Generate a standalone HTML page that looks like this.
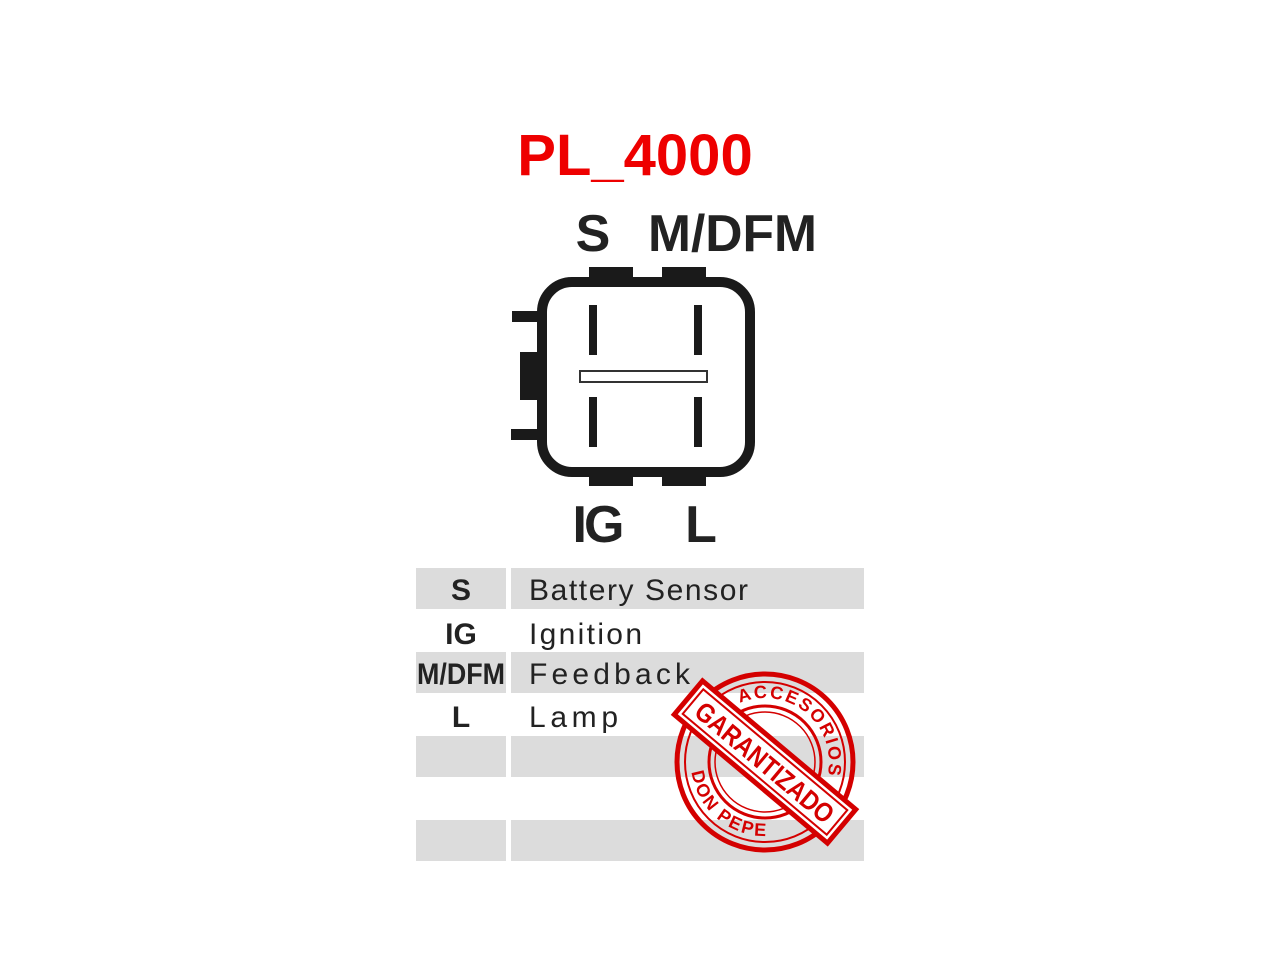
<!DOCTYPE html>
<html><head><style>
body{margin:0;background:#fff;}
</style></head><body>
<svg width="1280" height="960" xmlns="http://www.w3.org/2000/svg" style="display:block">
<rect width="1280" height="960" fill="#fff"/>
<text x="635" y="175" text-anchor="middle" font-family="Liberation Sans, sans-serif" font-weight="bold" font-size="58" fill="#ee0000">PL_4000</text>
<text x="592" y="251" text-anchor="middle" font-family="Liberation Sans, sans-serif" font-weight="bold" font-size="52" fill="#222" letter-spacing="-2">S</text>
<text x="648" y="251" font-family="Liberation Sans, sans-serif" font-weight="bold" font-size="52" fill="#222" textLength="169" lengthAdjust="spacingAndGlyphs">M/DFM</text>
<text x="597" y="542" text-anchor="middle" font-family="Liberation Sans, sans-serif" font-weight="bold" font-size="52" fill="#222" letter-spacing="-3">IG</text>
<text x="701" y="542" text-anchor="middle" font-family="Liberation Sans, sans-serif" font-weight="bold" font-size="52" fill="#222">L</text>
<g fill="#1a1a1a">
<rect x="589" y="267" width="44" height="16"/><rect x="662" y="267" width="44" height="16"/>
<rect x="589" y="470" width="44" height="16"/><rect x="662" y="470" width="44" height="16"/>
<rect x="512" y="311" width="28" height="11"/><rect x="511" y="429" width="29" height="11"/>
<rect x="520" y="352" width="20" height="48"/>
<rect x="589" y="305" width="8" height="50"/><rect x="694" y="305" width="8" height="50"/>
<rect x="589" y="397" width="8" height="50"/><rect x="694" y="397" width="8" height="50"/>
</g>
<rect x="542" y="282" width="208" height="190" rx="30" fill="none" stroke="#1a1a1a" stroke-width="10"/>
<rect x="580" y="371" width="127" height="11" fill="#fff" stroke="#333" stroke-width="2"/>
<g fill="#dcdcdc">
<rect x="416" y="568" width="90" height="41"/><rect x="511" y="568" width="353" height="41"/>
<rect x="416" y="652" width="90" height="41"/><rect x="511" y="652" width="353" height="41"/>
<rect x="416" y="736" width="90" height="41"/><rect x="511" y="736" width="353" height="41"/>
<rect x="416" y="820" width="90" height="41"/><rect x="511" y="820" width="353" height="41"/>
</g>
<g font-family="Liberation Sans, sans-serif" font-size="30" fill="#222">
<text x="461" y="600" text-anchor="middle" font-weight="bold">S</text>
<text x="461" y="644" text-anchor="middle" font-weight="bold">IG</text>
<text x="461" y="684" text-anchor="middle" font-weight="bold" textLength="88" lengthAdjust="spacingAndGlyphs">M/DFM</text>
<text x="461" y="727" text-anchor="middle" font-weight="bold">L</text>
<text x="529" y="600" textLength="219" lengthAdjust="spacing">Battery Sensor</text>
<text x="529" y="644" textLength="113" lengthAdjust="spacing">Ignition</text>
<text x="529" y="684" textLength="161" lengthAdjust="spacing">Feedback</text>
<text x="529" y="727" textLength="89" lengthAdjust="spacing">Lamp</text>
</g>
<g transform="translate(765,762)" fill="none" stroke="#d40000">
<circle r="88" stroke-width="5"/>
<circle r="80" stroke-width="2"/>
<circle r="56" stroke-width="3"/>
<circle r="50" stroke-width="1.5"/>
<defs><path id="arcT" d="M -64 0 A 64 64 0 0 1 64 0"/><path id="arcB" d="M -74 0 A 74 74 0 0 0 74 0"/></defs>
<g transform="rotate(40)" stroke="none" fill="#d40000" font-family="Liberation Sans, sans-serif" font-weight="bold" font-size="18">
<text><textPath href="#arcT" startOffset="50%" text-anchor="middle" letter-spacing="2">ACCESORIOS</textPath></text>
<text><textPath href="#arcB" startOffset="50%" text-anchor="middle" letter-spacing="2">DON PEPE</textPath></text>
</g>
<g transform="rotate(40)">
<rect x="-100" y="-22" width="200" height="44" fill="#fff" stroke-width="5"/>
<rect x="-94" y="-16" width="188" height="32" stroke-width="2"/>
<text x="0" y="10" text-anchor="middle" stroke="none" fill="#d40000" font-family="Liberation Sans, sans-serif" font-weight="bold" font-size="27" textLength="172" lengthAdjust="spacingAndGlyphs">GARANTIZADO</text>
</g>
</g>
</svg>
</body></html>
